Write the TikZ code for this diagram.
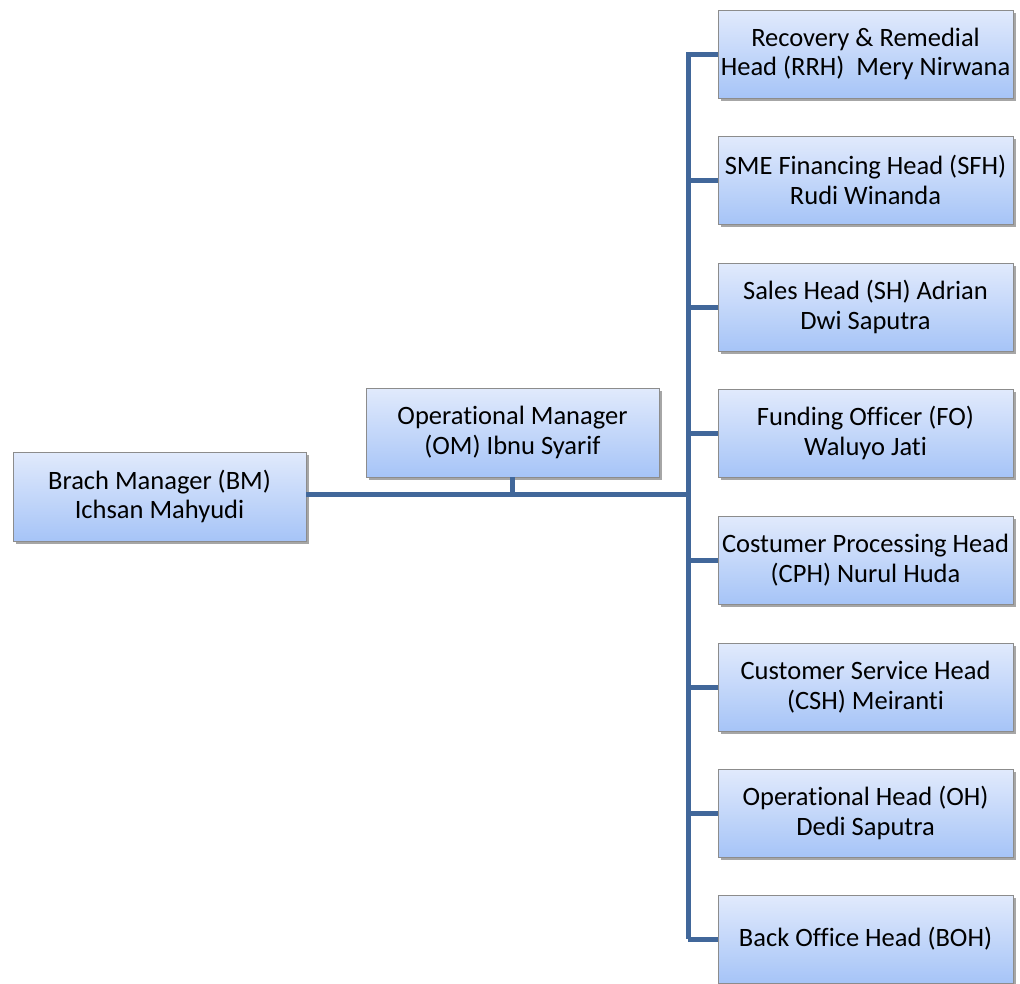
\documentclass[tikz,border=0pt]{standalone}
\usepackage{fontspec}
\setmainfont[Ligatures=NoCommon]{Carlito}
\usetikzlibrary{shadows}
\definecolor{linec}{HTML}{41679A}
\definecolor{boxtop}{HTML}{E1EAFC}
\definecolor{boxbot}{HTML}{A6C4F7}
\definecolor{boxdraw}{HTML}{8C8C8C}
\tikzset{
  orgbox/.style={draw=boxdraw, line width=0.8pt, top color=boxtop, bottom color=boxbot,
    minimum width=#1, align=center, inner sep=0pt,
    font=\fontsize{26.5}{29.5}\selectfont,
    drop shadow={shadow xshift=2.5pt, shadow yshift=-2.5pt, fill=black, opacity=0.35}},
  orgbox/.default=295pt,
  conn/.style={draw=linec, line width=5pt}
}
\begin{document}
\begin{tikzpicture}[x=1pt,y=-1pt]
\useasboundingbox (0,0) rectangle (1020,983);
\coordinate (vtop) at (688,52);
\coordinate (vbot) at (688,939);
\coordinate (junc) at (688,494);
\coordinate (omj) at (512,494);
\node[orgbox=293pt, minimum height=89pt] (bm) at (159.5,496.5) {Brach Manager (BM)\\Ichsan Mahyudi};
\node[orgbox=293pt, minimum height=89pt] (om) at (512.5,432.5) {Operational Manager\\(OM) Ibnu Syarif};
\node[orgbox, minimum height=88pt] (rrh) at (865.5,54) {Recovery \& Remedial\\Head (RRH)\ \ Mery Nirwana};
\node[orgbox, minimum height=88pt] (sfh) at (865.5,180) {SME Financing Head (SFH)\\Rudi Winanda};
\node[orgbox, minimum height=88pt] (sh) at (865.5,307) {Sales Head (SH) Adrian\\Dwi Saputra};
\node[orgbox, minimum height=88pt] (fo) at (865.5,433) {Funding Officer (FO)\\Waluyo Jati};
\node[orgbox, minimum height=88pt] (cph) at (865.5,560) {Costumer Processing Head\\(CPH) Nurul Huda};
\node[orgbox, minimum height=88pt] (csh) at (865.5,687) {Customer Service Head\\(CSH) Meiranti};
\node[orgbox, minimum height=88pt] (oh) at (865.5,813) {Operational Head (OH)\\Dedi Saputra};
\node[orgbox, minimum height=88pt] (boh) at (865.5,939) {Back Office Head (BOH)};
\draw[conn] (bm.east |- junc) -- (junc);
\draw[conn] (om.south -| omj) -- (omj);
\draw[conn] (vtop) -- (vbot);
\foreach \n in {rrh,sfh,sh,fo,cph,csh,oh,boh}{
  \draw[conn] (vtop |- \n.west) -- (\n.west);
}
\end{tikzpicture}
\end{document}
